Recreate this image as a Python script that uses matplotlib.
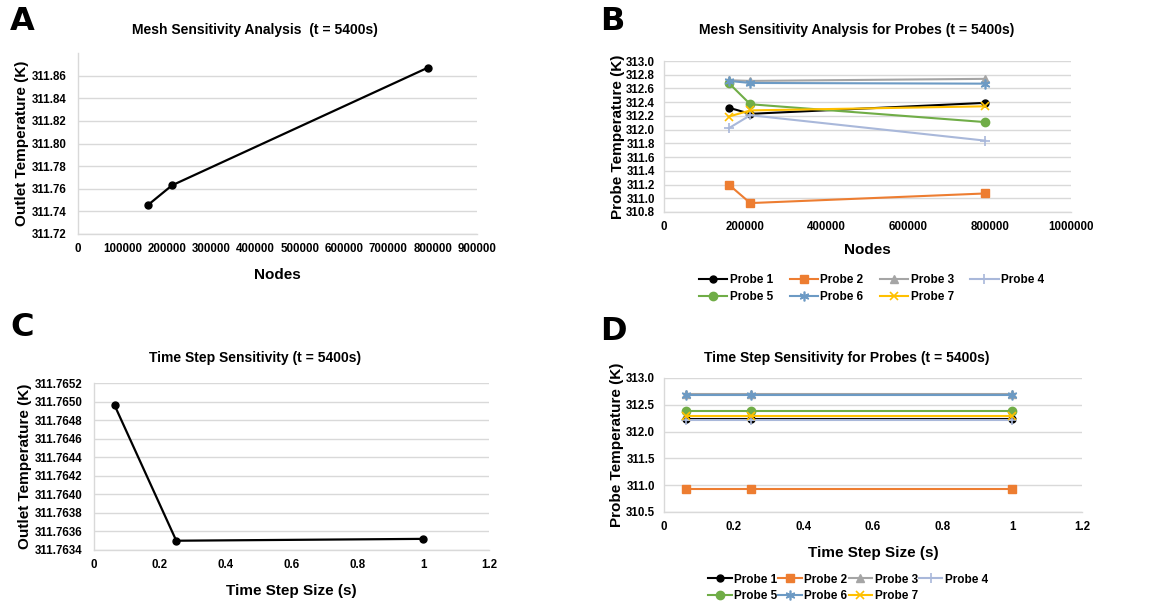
import matplotlib
matplotlib.use("Agg")
from matplotlib import pyplot as plt
from matplotlib.ticker import FormatStrFormatter, MultipleLocator

plt.rcParams['font.family'] = ['Liberation Sans', 'DejaVu Sans']
plt.rcParams['font.weight'] = 'bold'

# panel A: mesh sensitivity, outlet temperature
mesh_nodes = [159000, 212000, 789000]
mesh_outlet = [311.746, 311.763, 311.867]

# panel B: mesh sensitivity for probes
mesh_probes = {
    "Probe 1": [312.32, 312.23, 312.39],
    "Probe 2": [311.20, 310.93, 311.07],
    "Probe 3": [312.72, 312.71, 312.74],
    "Probe 4": [312.02, 312.21, 311.84],
    "Probe 5": [312.68, 312.37, 312.11],
    "Probe 6": [312.71, 312.68, 312.67],
    "Probe 7": [312.19, 312.28, 312.34],
}

# panel C: time step sensitivity, outlet temperature
step_sizes = [0.0625, 0.25, 1.0]
step_outlet = [311.76496, 311.76350, 311.76352]

# panel D: time step sensitivity for probes
step_probes = {
    "Probe 1": [312.24, 312.24, 312.24],
    "Probe 2": [310.93, 310.93, 310.93],
    "Probe 3": [312.70, 312.70, 312.70],
    "Probe 4": [312.22, 312.22, 312.22],
    "Probe 5": [312.38, 312.38, 312.38],
    "Probe 6": [312.69, 312.69, 312.69],
    "Probe 7": [312.29, 312.29, 312.29],
}

probe_style = {
    "Probe 1": dict(color="black", marker="o", ms=5),
    "Probe 2": dict(color="#ED7D31", marker="s", ms=6),
    "Probe 3": dict(color="#A5A5A5", marker="^", ms=6),
    "Probe 4": dict(color="#A9B8DA", marker="+", ms=7, mew=1.2),
    "Probe 5": dict(color="#70AD47", marker="o", ms=6),
    "Probe 6": dict(color="#6C9AC4", marker=(6, 2, 0), ms=7, mew=1.2),
    "Probe 7": dict(color="#FFC000", marker="x", ms=6, mew=1.2),
}
# legend is filled column by column; this order gives rows 1-4 / 5-7
legend_order = ["Probe 1", "Probe 5", "Probe 2", "Probe 6", "Probe 3", "Probe 7", "Probe 4"]

GRID = "#D9D9D9"
TICK_FS = 8.3
LABEL_FS = 11
TITLE_FS = 10


def style_axes(ax, ypad=7):
    ax.grid(axis="y", color=GRID, lw=1)
    ax.set_axisbelow(True)
    for side in ["top", "right"]:
        ax.spines[side].set_visible(False)
    for side in ["left", "bottom"]:
        ax.spines[side].set_color(GRID)
        ax.spines[side].set_linewidth(1)
    ax.tick_params(length=0, labelsize=TICK_FS)
    ax.tick_params(axis="x", pad=6.5)
    ax.tick_params(axis="y", pad=ypad)
    for lab in ax.get_xticklabels() + ax.get_yticklabels():
        lab.set_fontweight("bold")


def px(left, top, right, bottom, W=1150, H=608):
    return [left / W, 1 - bottom / H, (right - left) / W, (bottom - top) / H]


def probe_legend(ax, lines, anchor, colsp, hlen, lsp=0.45):
    handles = [lines[n] for n in legend_order]
    ax.legend(handles, legend_order, ncol=4, loc="upper center", bbox_to_anchor=anchor,
              frameon=False, prop=dict(size=8.5, weight="bold"), handlelength=hlen,
              handletextpad=0.2, columnspacing=colsp, labelspacing=lsp)


fig = plt.figure(figsize=(11.5, 6.08), dpi=100)

# ---- A ----
axA = fig.add_axes(px(78, 53, 477, 234))
axA.plot(mesh_nodes, mesh_outlet, color="black", lw=1.6, marker="o", ms=5)
axA.set_xlim(0, 900000)
axA.set_ylim(311.72, 311.88)
axA.set_yticks([311.72 + 0.02 * i for i in range(8)])
axA.set_xticks(range(0, 900001, 100000))
axA.xaxis.set_major_formatter(FormatStrFormatter("%d"))
axA.yaxis.set_major_formatter(FormatStrFormatter("%.2f"))
style_axes(axA, ypad=8)
axA.set_xlabel("Nodes", fontsize=LABEL_FS, fontweight="bold", labelpad=9)
axA.set_ylabel("Outlet Temperature (K)", fontsize=LABEL_FS, fontweight="bold", labelpad=2)
fig.text(255 / 1150, 1 - 30 / 608, "Mesh Sensitivity Analysis  (t = 5400s)",
         ha="center", va="center", fontsize=TITLE_FS, fontweight="bold")

# ---- B ----
axB = fig.add_axes(px(664, 61, 1071, 212))
linesB = {}
for name, vals in mesh_probes.items():
    linesB[name], = axB.plot(mesh_nodes, vals, lw=1.5, label=name, **probe_style[name])
axB.set_xlim(0, 1000000)
axB.set_ylim(310.8, 313.0)
axB.yaxis.set_major_locator(MultipleLocator(0.2))
axB.set_xticks(range(0, 1000001, 200000))
axB.xaxis.set_major_formatter(FormatStrFormatter("%d"))
axB.yaxis.set_major_formatter(FormatStrFormatter("%.1f"))
style_axes(axB, ypad=6.5)
axB.set_xlabel("Nodes", fontsize=LABEL_FS, fontweight="bold", labelpad=7)
axB.set_ylabel("Probe Temperature (K)", fontsize=LABEL_FS, fontweight="bold", labelpad=1)
fig.text(857 / 1150, 1 - 30 / 608, "Mesh Sensitivity Analysis for Probes (t = 5400s)",
         ha="center", va="center", fontsize=TITLE_FS, fontweight="bold")
probe_legend(axB, linesB, (0.51, -0.34), 1.4, 2.4)

# ---- C ----
axC = fig.add_axes(px(94, 383, 489, 550))
axC.plot(step_sizes, step_outlet, color="black", lw=1.6, marker="o", ms=5)
axC.set_xlim(0, 1.2)
axC.set_ylim(311.7634, 311.7652)
axC.set_yticks([311.7634 + 0.0002 * i for i in range(10)])
axC.set_xticks([0, 0.2, 0.4, 0.6, 0.8, 1.0, 1.2])
axC.set_xticklabels(["0", "0.2", "0.4", "0.6", "0.8", "1", "1.2"])
axC.yaxis.set_major_formatter(FormatStrFormatter("%.4f"))
style_axes(axC, ypad=8)
axC.set_xlabel("Time Step Size (s)", fontsize=LABEL_FS, fontweight="bold", labelpad=9)
axC.set_ylabel("Outlet Temperature (K)", fontsize=LABEL_FS, fontweight="bold", labelpad=2)
fig.text(255 / 1150, 1 - 358 / 608, "Time Step Sensitivity (t = 5400s)",
         ha="center", va="center", fontsize=TITLE_FS, fontweight="bold")

# ---- D ----
axD = fig.add_axes(px(664, 378, 1082, 512))
linesD = {}
for name, vals in step_probes.items():
    linesD[name], = axD.plot(step_sizes, vals, lw=1.5, label=name, **probe_style[name])
axD.set_xlim(0, 1.2)
axD.set_ylim(310.5, 313.0)
axD.yaxis.set_major_locator(MultipleLocator(0.5))
axD.set_xticks([0, 0.2, 0.4, 0.6, 0.8, 1.0, 1.2])
axD.set_xticklabels(["0", "0.2", "0.4", "0.6", "0.8", "1", "1.2"])
axD.yaxis.set_major_formatter(FormatStrFormatter("%.1f"))
style_axes(axD, ypad=6.5)
axD.set_xlabel("Time Step Size (s)", fontsize=LABEL_FS, fontweight="bold", labelpad=9)
axD.set_ylabel("Probe Temperature (K)", fontsize=LABEL_FS, fontweight="bold", labelpad=1)
fig.text(847 / 1150, 1 - 358 / 608, "Time Step Sensitivity for Probes (t = 5400s)",
         ha="center", va="center", fontsize=TITLE_FS, fontweight="bold")
probe_legend(axD, linesD, (0.44, -0.38), 0.1, 2.0, lsp=0.4)

# panel letters
for letter, x, y in [("A", 10, 22), ("B", 600, 22), ("C", 10, 328), ("D", 600, 332)]:
    fig.text(x / 1150, 1 - y / 608, letter, ha="left", va="center",
             fontsize=23, fontweight="bold", family="DejaVu Sans")

fig.savefig("out.png", dpi=100, facecolor="white")
